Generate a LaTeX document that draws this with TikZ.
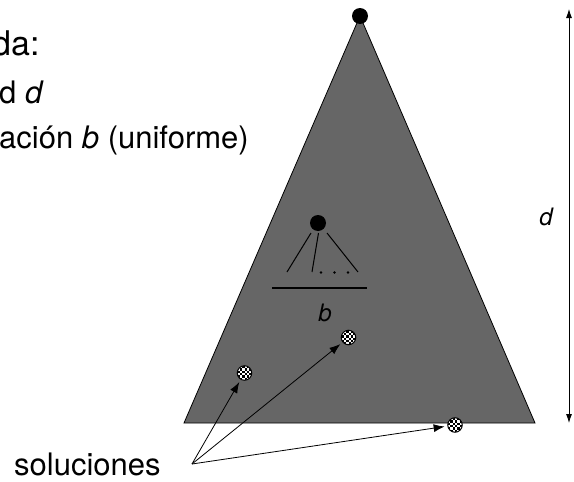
\documentclass[tikz,border=0pt]{standalone}
\usepackage{fontspec}
\setmainfont{TeX Gyre Heros}
\usetikzlibrary{arrows.meta}
\definecolor{trigray}{RGB}{102,102,102}
\begin{document}
\begin{tikzpicture}[x=1pt,y=-1pt,
  dot/.style={circle,fill=black,inner sep=0pt,minimum size=16pt},
  sol/.style={circle,fill=white,inner sep=0pt,minimum size=14.5pt},
  arr/.style={-{Latex[length=11pt,width=8pt]},line width=0.8pt,shorten >=3pt},
  darr/.style={{Latex[length=9pt,width=6pt]}-{Latex[length=9pt,width=6pt]},line width=0.8pt},
  txt/.style={inner sep=0pt,anchor=base west,font=\fontsize{31}{36}\selectfont},
  lab/.style={inner sep=0pt,font=\fontsize{24}{28}\selectfont\itshape}]
\useasboundingbox (0,0) rectangle (574,482);
% texts (cut at left edge)
\node[txt,font=\fontsize{34}{40}\selectfont] (t1) at (-8,55) {da:};
\node[txt] (t2) at (-1,103) {d \textit{d}};
\node[txt] (t3) at (-1,148) {ación \textit{b} (uniforme)};
% triangle
\filldraw[fill=trigray,draw=black,line width=0.8pt] (360,16) -- (535,423) -- (184,423) -- cycle;
\node[dot] (root) at (360,16) {};
% inner subtree
\node[dot] (sub) at (318,223) {};
\draw[line width=1pt] (311,233) -- (287,272);
\draw[line width=1pt] (318.5,233) -- (312,272);
\draw[line width=1pt] (327,233) -- (358,272);
\fill (321,272.5) circle (1.3);
\fill (334.5,272.5) circle (1.3);
\fill (348,272.5) circle (1.3);
\draw[line width=1.5pt] (272,288) -- (367,288);
\node[lab] (blab) at (325,313) {b};
% solutions
\node[sol] (s1) at (244.5,373) {};
\node[sol] (s2) at (348.5,337.5) {};
\node[sol] (s3) at (455,425) {};
\foreach \s in {s1,s2,s3}{
  \begin{scope}
    \clip (\s.center) circle (7);
    \foreach \i in {-3,...,2}{
      \foreach \j in {-3,...,2}{
        \pgfmathtruncatemacro\parity{mod(\i+\j+6,2)}
        \ifnum\parity=0
          \fill[black] ([shift={(\i*2.4,\j*2.4)}]\s.center) rectangle ++(2.4,2.4);
        \fi
      }
    }
  \end{scope}
  \draw[line width=1pt] (\s.center) circle (7.25);
}
\coordinate (conv) at (192,464);
\draw[arr] (conv) -- (s1);
\draw[arr] (conv) -- (s2);
\draw[arr] (conv) -- (s3);
\node[txt] (soltxt) at (14,475) {soluciones};
% depth arrow
\coordinate (dtop) at (569,9);
\coordinate (dbot) at (569,423);
\draw[darr] (dtop) -- (dbot);
\node[lab] (dlab) at (546,217) {d};
\end{tikzpicture}
\end{document}
